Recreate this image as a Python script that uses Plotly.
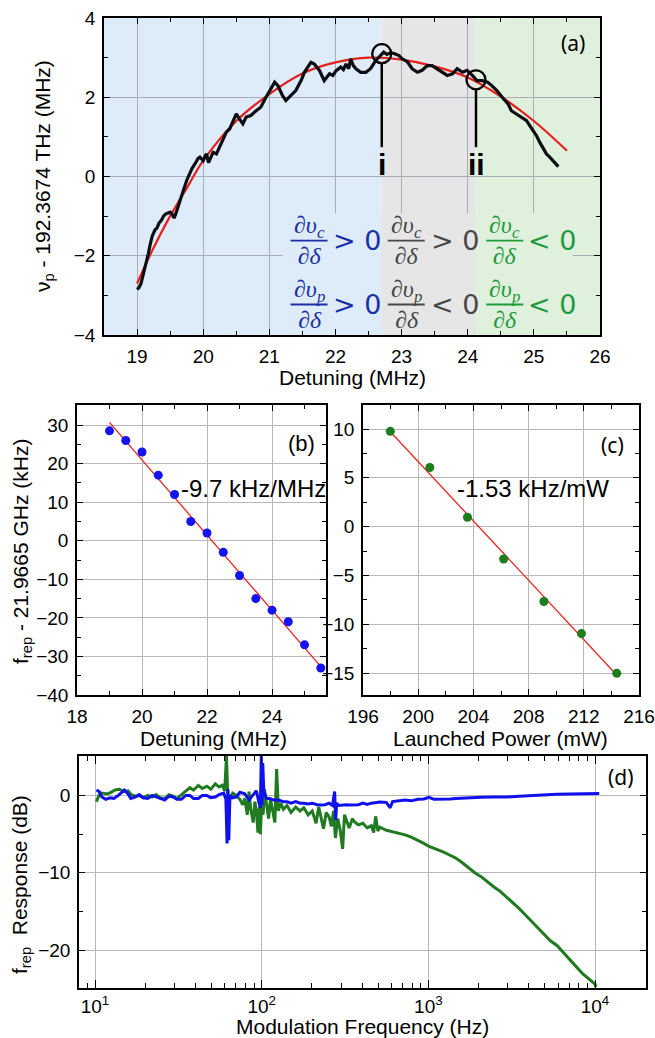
import plotly.graph_objects as go

W, H = 655, 1038

# ---------------- panel (a) data ----------------
a_det = [19.00, 19.03, 19.06, 19.10, 19.13, 19.17, 19.20, 19.23, 19.27, 19.30,
         19.33, 19.37, 19.40, 19.43, 19.47, 19.50, 19.53, 19.56, 19.59, 19.62,
         19.65, 19.70, 19.75, 19.80, 19.83, 19.88, 19.92, 19.95, 20.00, 20.03,
         20.05, 20.08, 20.10, 20.13, 20.15, 20.20, 20.25, 20.30, 20.35, 20.40,
         20.45, 20.50, 20.55, 20.60, 20.65, 20.72, 20.80, 20.87, 20.95, 21.03,
         21.08, 21.13, 21.20, 21.25, 21.33, 21.40, 21.48, 21.53, 21.58, 21.63,
         21.68, 21.76, 21.83, 21.91, 21.96, 22.01, 22.08, 22.12, 22.16, 22.20,
         22.23, 22.27, 22.31, 22.38, 22.46, 22.53, 22.61, 22.68, 22.73, 22.78,
         22.83, 22.88, 22.96, 23.01, 23.09, 23.16, 23.24, 23.31, 23.39, 23.46,
         23.54, 23.62, 23.69, 23.77, 23.84, 23.92, 23.99, 24.07, 24.14, 24.22,
         24.30, 24.36, 24.44, 24.54, 24.61, 24.66, 24.74, 24.81, 24.89, 24.94,
         24.99, 25.04, 25.09, 25.14, 25.19, 25.24, 25.29, 25.33, 25.37]
a_nu = [-2.85, -2.80, -2.70, -2.45, -2.25, -1.95, -1.70, -1.50, -1.35, -1.30,
        -1.18, -1.10, -1.00, -0.95, -0.92, -0.90, -0.95, -1.05, -0.92, -0.78,
        -0.62, -0.35, -0.10, 0.12, 0.20, 0.33, 0.45, 0.49, 0.40, 0.52,
        0.57, 0.35, 0.44, 0.55, 0.61, 0.57, 0.74, 0.91, 1.12, 1.20,
        1.41, 1.58, 1.45, 1.33, 1.50, 1.54, 1.66, 1.75, 2.00, 2.25,
        2.38, 2.29, 2.04, 1.92, 2.04, 2.17, 2.42, 2.63, 2.76, 2.88,
        2.84, 2.67, 2.42, 2.59, 2.55, 2.67, 2.76, 2.70, 2.84, 2.72,
        2.97, 2.80, 2.72, 2.63, 2.63, 2.72, 2.93, 3.05, 3.14, 3.08,
        3.12, 3.11, 3.05, 2.97, 2.89, 2.72, 2.63, 2.68, 2.80, 2.80,
        2.72, 2.63, 2.55, 2.59, 2.72, 2.63, 2.68, 2.55, 2.42, 2.42,
        2.38, 2.30, 2.17, 1.96, 1.83, 1.66, 1.58, 1.49, 1.41, 1.28,
        1.16, 1.03, 0.86, 0.70, 0.57, 0.49, 0.40, 0.30, 0.25]
a_fit_det = [19.0, 19.25, 19.5, 19.75, 20.0, 20.5, 21.0, 21.5, 22.0, 22.5,
             23.0, 23.5, 24.0, 24.5, 25.0, 25.5]
a_fit_nu = [-2.70, -1.80, -1.00, -0.30, 0.40, 1.40, 2.08, 2.60, 2.88, 3.00,
            2.95, 2.78, 2.50, 2.02, 1.40, 0.65]
a_mark_det = [22.70, 24.125]
a_mark_nu = [3.10, 2.44]
a_mark_labels = ["i", "ii"]
a_stem_end = 0.74
a_regions = [18.5, 22.70, 24.13, 26.0]
a_region_colors = ["#deebf9", "#e6e6e6", "#dff0dc"]
a_eq_colors = ["#1b2fa6", "#474747", "#1f9a3c"]
a_eq_frac_x = [21.60, 23.07, 24.56]
a_eq_rel_x = [22.33, 23.80, 25.27]
a_eq_num = [["∂υ<sub>c</sub>", "∂υ<sub>p</sub>"]] * 3
a_eq_rel = [["&gt; 0", "&gt; 0"], ["&gt; 0", "&lt; 0"], ["&lt; 0", "&lt; 0"]]
a_eq_row_y = [-1.62, -3.23]

# ---------------- panel (b) data ----------------
b_det = [19.0, 19.5, 20.0, 20.5, 21.0, 21.5, 22.0, 22.5, 23.0, 23.5, 24.0, 24.5, 25.0, 25.5]
b_frep = [28.5, 26.0, 23.0, 17.0, 12.0, 5.0, 2.0, -3.0, -9.0, -15.0, -18.0, -21.0, -27.0, -33.0]
b_fit_det = [19.0, 25.55]
b_fit_frep = [30.7, -33.1]

# ---------------- panel (c) data ----------------
c_pow = [197.98, 200.84, 203.57, 206.19, 209.11, 211.83, 214.39]
c_frep = [9.76, 6.06, 0.96, -3.32, -7.67, -10.96, -15.03]
c_fit_pow = [198.0, 214.45]
c_fit_frep = [9.7, -15.3]

# ---------------- panel (d) data (Hz, dB) ----------------
d_green = [(10.2, -0.8), (10.6, 0.1), (11.0, 0.3), (11.8, 0.2), (12.5, 0.4), (13.2, 0.7),
           (14.0, 0.8), (15.0, 0.5), (15.8, 0.6), (16.5, 0.1), (17.5, -0.1), (18.5, 0.0),
           (19.5, -0.3), (20.7, 0.0), (22.0, -0.2), (23.3, 0.1), (24.5, -0.3), (26.2, -0.4),
           (27.8, 0.1), (29.4, -0.1), (31.0, -0.4), (33.0, 0.1), (35.0, 0.6), (37.1, 1.0),
           (39.0, 0.7), (41.7, 1.3), (44.0, 0.9), (46.9, 1.2), (49.5, 0.8), (52.7, 1.5),
           (55.5, 1.1), (58.0, 1.3), (60.0, 0.6), (61.5, 5.1), (62.5, 0.2), (64.5, -0.5),
           (67.0, 0.3), (70.5, 0.0), (74.0, -0.5), (77.0, -1.2), (79.2, -0.4), (82.0, -2.5),
           (84.0, 0.5), (86.0, -1.8), (89.0, -3.5), (91.0, -0.8), (93.0, -2.0), (95.0, -4.8),
           (97.0, -1.5), (98.2, -5.0), (100, -1.0), (102, -2.5), (104, 0.8), (107, -1.2),
           (110, -3.0), (113, -0.5), (116, -1.8), (120, -3.5), (123, 3.4), (126, -2.0),
           (130, -1.0), (135, -1.8), (142, -1.3), (150, -2.2), (160, -1.5), (170, -2.0),
           (179, -1.6), (190, -2.5), (201, -2.0), (212, -3.6), (220, -1.5), (226, -2.8),
           (235, -4.3), (244, -2.2), (254, -2.8), (262, -4.0), (270, -2.0), (277, -5.5),
           (286, -3.0), (296, -4.5), (306, -6.9), (314, -2.5), (321, -3.0), (335, -4.2),
           (350, -3.0), (360, -3.4), (380, -3.8), (405, -3.6), (430, -4.2), (455, -3.9),
           (470, -4.8), (483, -2.7), (498, -4.6), (512, -4.1), (560, -4.5), (610, -4.7),
           (660, -4.8), (726, -5.1), (790, -5.4), (865, -5.8), (940, -6.2), (1010, -6.6),
           (1110, -6.9), (1227, -7.3), (1340, -7.7), (1462, -8.1), (1600, -8.7), (1741, -9.4),
           (1900, -10.0), (2072, -10.5), (2260, -11.2), (2467, -11.8), (2700, -12.4),
           (2938, -13.1), (3200, -13.8), (3499, -14.6), (3800, -15.4), (4167, -16.3),
           (4550, -17.2), (4963, -18.1), (5400, -18.8), (5911, -19.4), (6450, -20.3),
           (7041, -21.3), (7700, -22.2), (8389, -23.0), (9150, -23.7), (10000, -24.4),
           (10100, -24.8)]
d_blue = [(10.2, 0.7), (10.6, 0.5), (11.0, -0.2), (11.6, -0.5), (12.3, -0.3), (13.0, -0.4),
          (13.8, 0.0), (14.5, 0.4), (15.0, 0.7), (15.8, 0.2), (16.4, -0.4), (17.5, -0.2),
          (18.4, 0.1), (19.5, -0.3), (20.7, -0.4), (22.0, 0.0), (23.3, -0.2), (24.8, -0.5),
          (26.2, -0.6), (27.8, -0.1), (29.4, -0.2), (31.0, -0.5), (33.0, -0.5), (35.0, 0.0),
          (37.1, 0.0), (39.0, -0.4), (41.7, -0.4), (44.0, 0.0), (46.9, 0.0), (49.5, -0.3),
          (52.7, -0.2), (55.5, 0.1), (59.2, 0.3), (61.0, -0.5), (62.0, -6.2), (62.8, 0.8),
          (63.5, -5.8), (64.5, 0.0), (67.0, -0.3), (70.5, -0.2), (74.0, 0.4), (79.2, 0.2),
          (84.0, -0.6), (89.0, 0.1), (93.0, 0.6), (96.0, -0.8), (98.2, -1.6), (99.5, 5.1),
          (100.5, -1.2), (101.5, 4.2), (103, 0.5), (107, -0.4), (112, -0.4), (118, -0.6),
          (126, -0.6), (135, -0.8), (142, -0.8), (150, -1.0), (160, -0.8), (170, -1.0),
          (179, -1.0), (190, -1.1), (201, -1.0), (215, -1.2), (226, -1.25), (240, -1.2),
          (254, -1.0), (266, -1.3), (274, 0.5), (278, -3.2), (282, -1.0), (290, -1.3),
          (306, -1.25), (321, -1.2), (340, -1.25), (360, -1.25), (380, -1.2), (405, -1.0),
          (430, -1.15), (455, -1.0), (483, -0.9), (512, -0.85), (560, -0.9), (590, -1.6),
          (610, -0.8), (660, -0.7), (726, -0.6), (790, -0.7), (865, -0.5), (940, -0.45),
          (1010, -0.25), (1080, -0.5), (1227, -0.5), (1350, -0.45), (1462, -0.4),
          (1741, -0.3), (2072, -0.25), (2467, -0.2), (2938, -0.2), (3499, -0.1),
          (4167, 0.0), (4963, 0.1), (5911, 0.15), (7041, 0.2), (8389, 0.2), (10600, 0.25)]
d_tickvals = [10, 100, 1000, 10000]
d_ticktext = ["10<sup>1</sup>", "10<sup>2</sup>", "10<sup>3</sup>", "10<sup>4</sup>"]
d_minor_vals = [8, 9] + [m * 10 ** e for e in (1, 2, 3) for m in range(2, 10)] + [20000]

# ---------------- helpers ----------------
FONT = "Liberation Sans"


def px_x(p):
    return p / W


def px_y(p):
    return 1 - p / H


def axis(domain, rng, dtick, minor_dtick, anchor, grid="#b9b9b9", tick0=None, minor=None, **kw):
    d = dict(domain=domain, range=rng, dtick=dtick, ticks="inside", ticklen=6,
             tickwidth=1.2, tickcolor="black", showline=True, linecolor="black",
             linewidth=1.5, mirror="allticks", showgrid=True, gridcolor=grid,
             gridwidth=1, zeroline=False, anchor=anchor, fixedrange=True,
             automargin=False, ticklabelstandoff=3,
             tickfont=dict(family=FONT, size=19, color="black"),
             minor=minor or dict(dtick=minor_dtick, ticks="inside", ticklen=4, tickwidth=1.2,
                                 tickcolor="black", showgrid=False))
    if tick0 is not None:
        d["tick0"] = tick0
    d.update(kw)
    return d


fig = go.Figure()

# ---- panel (a) traces ----
fig.add_trace(go.Scatter(x=a_fit_det, y=a_fit_nu, mode="lines", line=dict(color="#e3201b", width=2.2, shape="spline"),
                         xaxis="x", yaxis="y", hoverinfo="skip"))
fig.add_trace(go.Scatter(x=a_det, y=a_nu, mode="lines", line=dict(color="#0d0d14", width=3.2),
                         xaxis="x", yaxis="y", hoverinfo="skip"))
r_y = 0.23
stem_x, stem_y = [], []
for xm, ym in zip(a_mark_det, a_mark_nu):
    stem_x += [xm, xm, None]
    stem_y += [ym - r_y, a_stem_end, None]
fig.add_trace(go.Scatter(x=stem_x, y=stem_y, mode="lines", line=dict(color="black", width=2.5),
                         xaxis="x", yaxis="y", hoverinfo="skip"))
fig.add_trace(go.Scatter(x=a_mark_det, y=a_mark_nu, mode="markers",
                         marker=dict(symbol="circle-open", size=19, color="black", line=dict(width=2.2)),
                         xaxis="x", yaxis="y", hoverinfo="skip"))

# ---- panel (b) ----
fig.add_trace(go.Scatter(x=b_fit_det, y=b_fit_frep, mode="lines", line=dict(color="#e8251f", width=1.3),
                         xaxis="x2", yaxis="y2", hoverinfo="skip"))
fig.add_trace(go.Scatter(x=b_det, y=b_frep, mode="markers", marker=dict(color="#1414f0", size=9),
                         xaxis="x2", yaxis="y2", hoverinfo="skip"))

# ---- panel (c) ----
fig.add_trace(go.Scatter(x=c_fit_pow, y=c_fit_frep, mode="lines", line=dict(color="#e8251f", width=1.3),
                         xaxis="x3", yaxis="y3", hoverinfo="skip"))
fig.add_trace(go.Scatter(x=c_pow, y=c_frep, mode="markers", marker=dict(color="#1c7d1c", size=9),
                         xaxis="x3", yaxis="y3", hoverinfo="skip"))

# ---- panel (d) ----
fig.add_trace(go.Scatter(x=[p[0] for p in d_green], y=[p[1] for p in d_green], mode="lines",
                         line=dict(color="#207a20", width=3), xaxis="x4", yaxis="y4", hoverinfo="skip"))
fig.add_trace(go.Scatter(x=[p[0] for p in d_blue], y=[p[1] for p in d_blue], mode="lines",
                         line=dict(color="#1010ee", width=3), xaxis="x4", yaxis="y4", hoverinfo="skip"))

# ---- shapes ----
shapes = []
for i, col in enumerate(a_region_colors):
    shapes.append(dict(type="rect", xref="x", yref="y domain", x0=a_regions[i], x1=a_regions[i + 1],
                       y0=0, y1=1, fillcolor=col, line=dict(width=0), layer="below"))
# box behind the equations (hides grid lines)
box_edges = [21.2, a_regions[1], a_regions[2], 25.59]
for i, col in enumerate(a_region_colors):
    shapes.append(dict(type="rect", xref="x", yref="y", x0=box_edges[i], x1=box_edges[i + 1],
                       y0=-3.98, y1=-0.93, fillcolor=col, line=dict(width=0), layer="between"))
for i, col in enumerate(a_eq_colors):
    for ry in a_eq_row_y:
        shapes.append(dict(type="line", xref="x", yref="y", x0=a_eq_frac_x[i] - 0.28, x1=a_eq_frac_x[i] + 0.28,
                           y0=ry, y1=ry, line=dict(color=col, width=1.8), layer="above"))

# ---- annotations ----
ann = []


def txt(x, y, s, size=21, family=FONT, color="black", angle=0, **kw):
    d = dict(x=px_x(x), y=px_y(y), xref="paper", yref="paper", text=s, showarrow=False,
             font=dict(family=family, size=size, color=color), textangle=angle,
             xanchor="center", yanchor="middle")
    d.update(kw)
    ann.append(d)


# axis titles
txt(352, 377, "Detuning (MHz)")
txt(44, 176, "ν<sub>p</sub> - 192.3674 THz (MHz)", angle=-90)
txt(22, 552, "f<sub>rep</sub> - 21.9665 GHz (kHz)", angle=-90)
txt(214, 738, "Detuning (MHz)")
txt(500, 738, "Launched Power (mW)")
txt(21, 885, "f<sub>rep</sub>  Response (dB)", angle=-90)
txt(362, 1026, "Modulation Frequency (Hz)")
# panel labels
txt(573, 43, "(a)", size=21, family="Noto Sans")
txt(301, 443, "(b)", size=22)
txt(612, 445, "(c)", size=21, family="Noto Sans")
txt(621, 777, "(d)", size=21, family="Noto Sans")
# slopes
txt(253, 488, "-9.7 kHz/MHz", size=24)
txt(533, 488, "-1.53 kHz/mW", size=24)

# i / ii labels
for xm, lab in zip(a_mark_det, a_mark_labels):
    ann.append(dict(x=xm, y=0, xref="x", yref="y", text="<b>" + lab + "</b>", showarrow=False,
                    font=dict(family=FONT, size=30, color="black"), xanchor="center",
                    yanchor="bottom", yshift=-6))

# equations
for i, col in enumerate(a_eq_colors):
    for r, ry in enumerate(a_eq_row_y):
        ann.append(dict(x=a_eq_frac_x[i], y=ry, xref="x", yref="y",
                        text="<i>" + a_eq_num[i][r] + "</i><br><i>∂δ</i>", showarrow=False,
                        font=dict(family="Liberation Serif", size=24, color=col),
                        xanchor="center", yanchor="middle"))
        ann.append(dict(x=a_eq_rel_x[i], y=ry, xref="x", yref="y", text=a_eq_rel[i][r], showarrow=False,
                        font=dict(family="DejaVu Sans", size=27, color=col),
                        xanchor="center", yanchor="middle"))

d_minor = dict(tickmode="array", tickvals=d_minor_vals, ticks="inside", ticklen=5, tickwidth=1.2,
               tickcolor="black", showgrid=False)

fig.update_layout(
    width=W, height=H, margin=dict(l=0, r=0, t=0, b=0, autoexpand=False), showlegend=False,
    paper_bgcolor="white", plot_bgcolor="white",
    xaxis=axis([px_x(104), px_x(600)], [18.5, 26], 1, 0.5, "y", grid="#a9aeb5", tick0=19),
    yaxis=axis([px_y(335), px_y(18)], [-4, 4], 2, 1, "x", grid="#a9aeb5", tick0=0),
    xaxis2=axis([px_x(77), px_x(326)], [18, 25.66], 2, 1, "y2", tick0=18),
    yaxis2=axis([px_y(695), px_y(405)], [-40, 35.2], 10, 5, "x2", tick0=0),
    xaxis3=axis([px_x(363), px_x(639)], [196, 216], 4, 2, "y3", tick0=196),
    yaxis3=axis([px_y(695), px_y(405)], [-17.25, 12.46], 5, 2.5, "x3", tick0=0),
    xaxis4=axis([px_x(79), px_x(646)], [0.904, 4.306], None, None, "y4", type="log",
                tickmode="array", tickvals=d_tickvals, ticktext=d_ticktext, ticklen=8,
                minor=d_minor, ticklabelstandoff=0),
    yaxis4=axis([px_y(988), px_y(756)], [-24.9, 5.1], 10, 5, "x4", tick0=0),
    shapes=shapes, annotations=ann,
)

fig.write_html("out.html", config={"displayModeBar": False},
               post_script="document.body.style.margin='0px';document.body.style.overflow='hidden';")
